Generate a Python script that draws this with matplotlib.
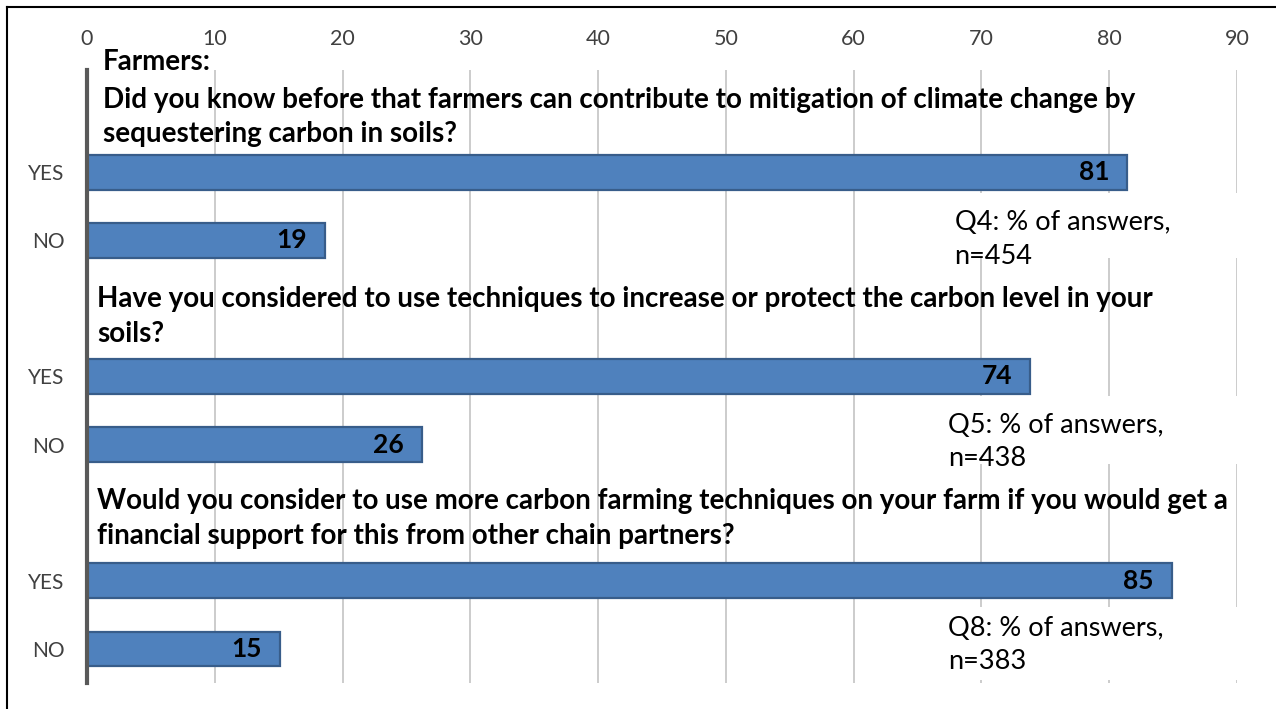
import matplotlib
matplotlib.use("Agg")
import matplotlib.pyplot as plt
from matplotlib.lines import Line2D
from matplotlib.patches import Rectangle

plt.rcParams["font.family"] = ["Lato", "DejaVu Sans"]

# data (% of answers)
header = "Farmers:"
questions = [
    "Did you know before that farmers can contribute to mitigation of climate change by\nsequestering carbon in soils?",
    "Have you considered to use techniques to increase or protect the carbon level in your\nsoils?",
    "Would you consider to use more carbon farming techniques on your farm if you would get a\nfinancial support for this from other chain partners?",
]
answers = ["YES", "NO"]
yes_values = [81.4, 73.8, 84.9]
no_values = [18.6, 26.2, 15.1]
notes = [
    "Q4: % of answers,\nn=454",
    "Q5: % of answers,\nn=438",
    "Q8: % of answers,\nn=383",
]
x_ticks = list(range(0, 100, 10))

BAR = "#4F81BD"
EDGE = "#385D8A"
GRID = "#C8C8C8"
TXT = "#404040"

fig = plt.figure(figsize=(12.76, 7.09), dpi=100)
ax = fig.add_axes([87 / 1276, 1 - 683 / 709, (1237 - 87) / 1276, (683 - 70) / 709])

# each question takes three slots: header row, YES, NO
n_slots = 3 * len(questions)
labels = []
for i in range(len(questions)):
    labels += [""] + answers
    for val, slot in zip((yes_values[i], no_values[i]), (3 * i + 1, 3 * i + 2)):
        ax.barh(slot, val, height=0.51, color=BAR, edgecolor=EDGE, linewidth=1.6, zorder=3)
        ax.annotate(f"{val:.0f}", (val, slot), xytext=(-13, 0), textcoords="offset points",
                    ha="right", va="center", fontsize=19, fontweight="bold", color="black", zorder=4)

ax.set_xlim(0, 90)
ax.set_ylim(n_slots - 0.5, -0.5)
ax.set_yticks(range(n_slots))
ax.set_yticklabels(labels, fontsize=15, color=TXT)
ax.set_xticks(x_ticks)
ax.set_xticklabels([str(t) for t in x_ticks], fontsize=15.5, color=TXT)
ax.xaxis.tick_top()
ax.tick_params(axis="x", length=0, pad=15)
ax.tick_params(axis="y", length=0, pad=16)
ax.grid(axis="x", color=GRID, linewidth=1.3)
ax.set_axisbelow(True)
for side in ("top", "right", "bottom"):
    ax.spines[side].set_visible(False)
ax.spines["left"].set_color("#595959")
ax.spines["left"].set_linewidth(3)
ax.spines["left"].set_zorder(5)

# question titles
q_x = [1.25, 0.8, 0.8]
q_y = [0.19, 3.12, 6.08]
ax.text(1.25, -0.62, header, fontsize=20, fontweight="bold", va="center", ha="left", clip_on=False)
for txt, x, y in zip(questions, q_x, q_y):
    ax.text(x, y, txt, fontsize=20, fontweight="bold", va="center", ha="left", linespacing=1.42, zorder=6)

# sample size notes on white boxes that hide the grid
n_x = [67.9, 67.4, 67.4]
n_y = [1.99, 4.96, 7.94]
box = [(1.31, 0.95), (4.28, 1.0), (7.39, 1.07)]
for txt, x, y, (b0, bh) in zip(notes, n_x, n_y, box):
    ax.add_patch(Rectangle((x - 1.5, b0), 92 - x, bh, facecolor="white", edgecolor="none", zorder=2, clip_on=False))
    ax.text(x, y, txt, fontsize=19.5, va="center", ha="left", linespacing=1.42, zorder=6)

# outer frame (left and top edges visible)
fig.add_artist(Line2D([7 / 1276, 7 / 1276], [0, 1 - 7 / 709], transform=fig.transFigure, color="black", linewidth=1.5))
fig.add_artist(Line2D([7 / 1276, 1], [1 - 7 / 709, 1 - 7 / 709], transform=fig.transFigure, color="black", linewidth=1.5))

fig.savefig("out.png", dpi=100, facecolor="white")
